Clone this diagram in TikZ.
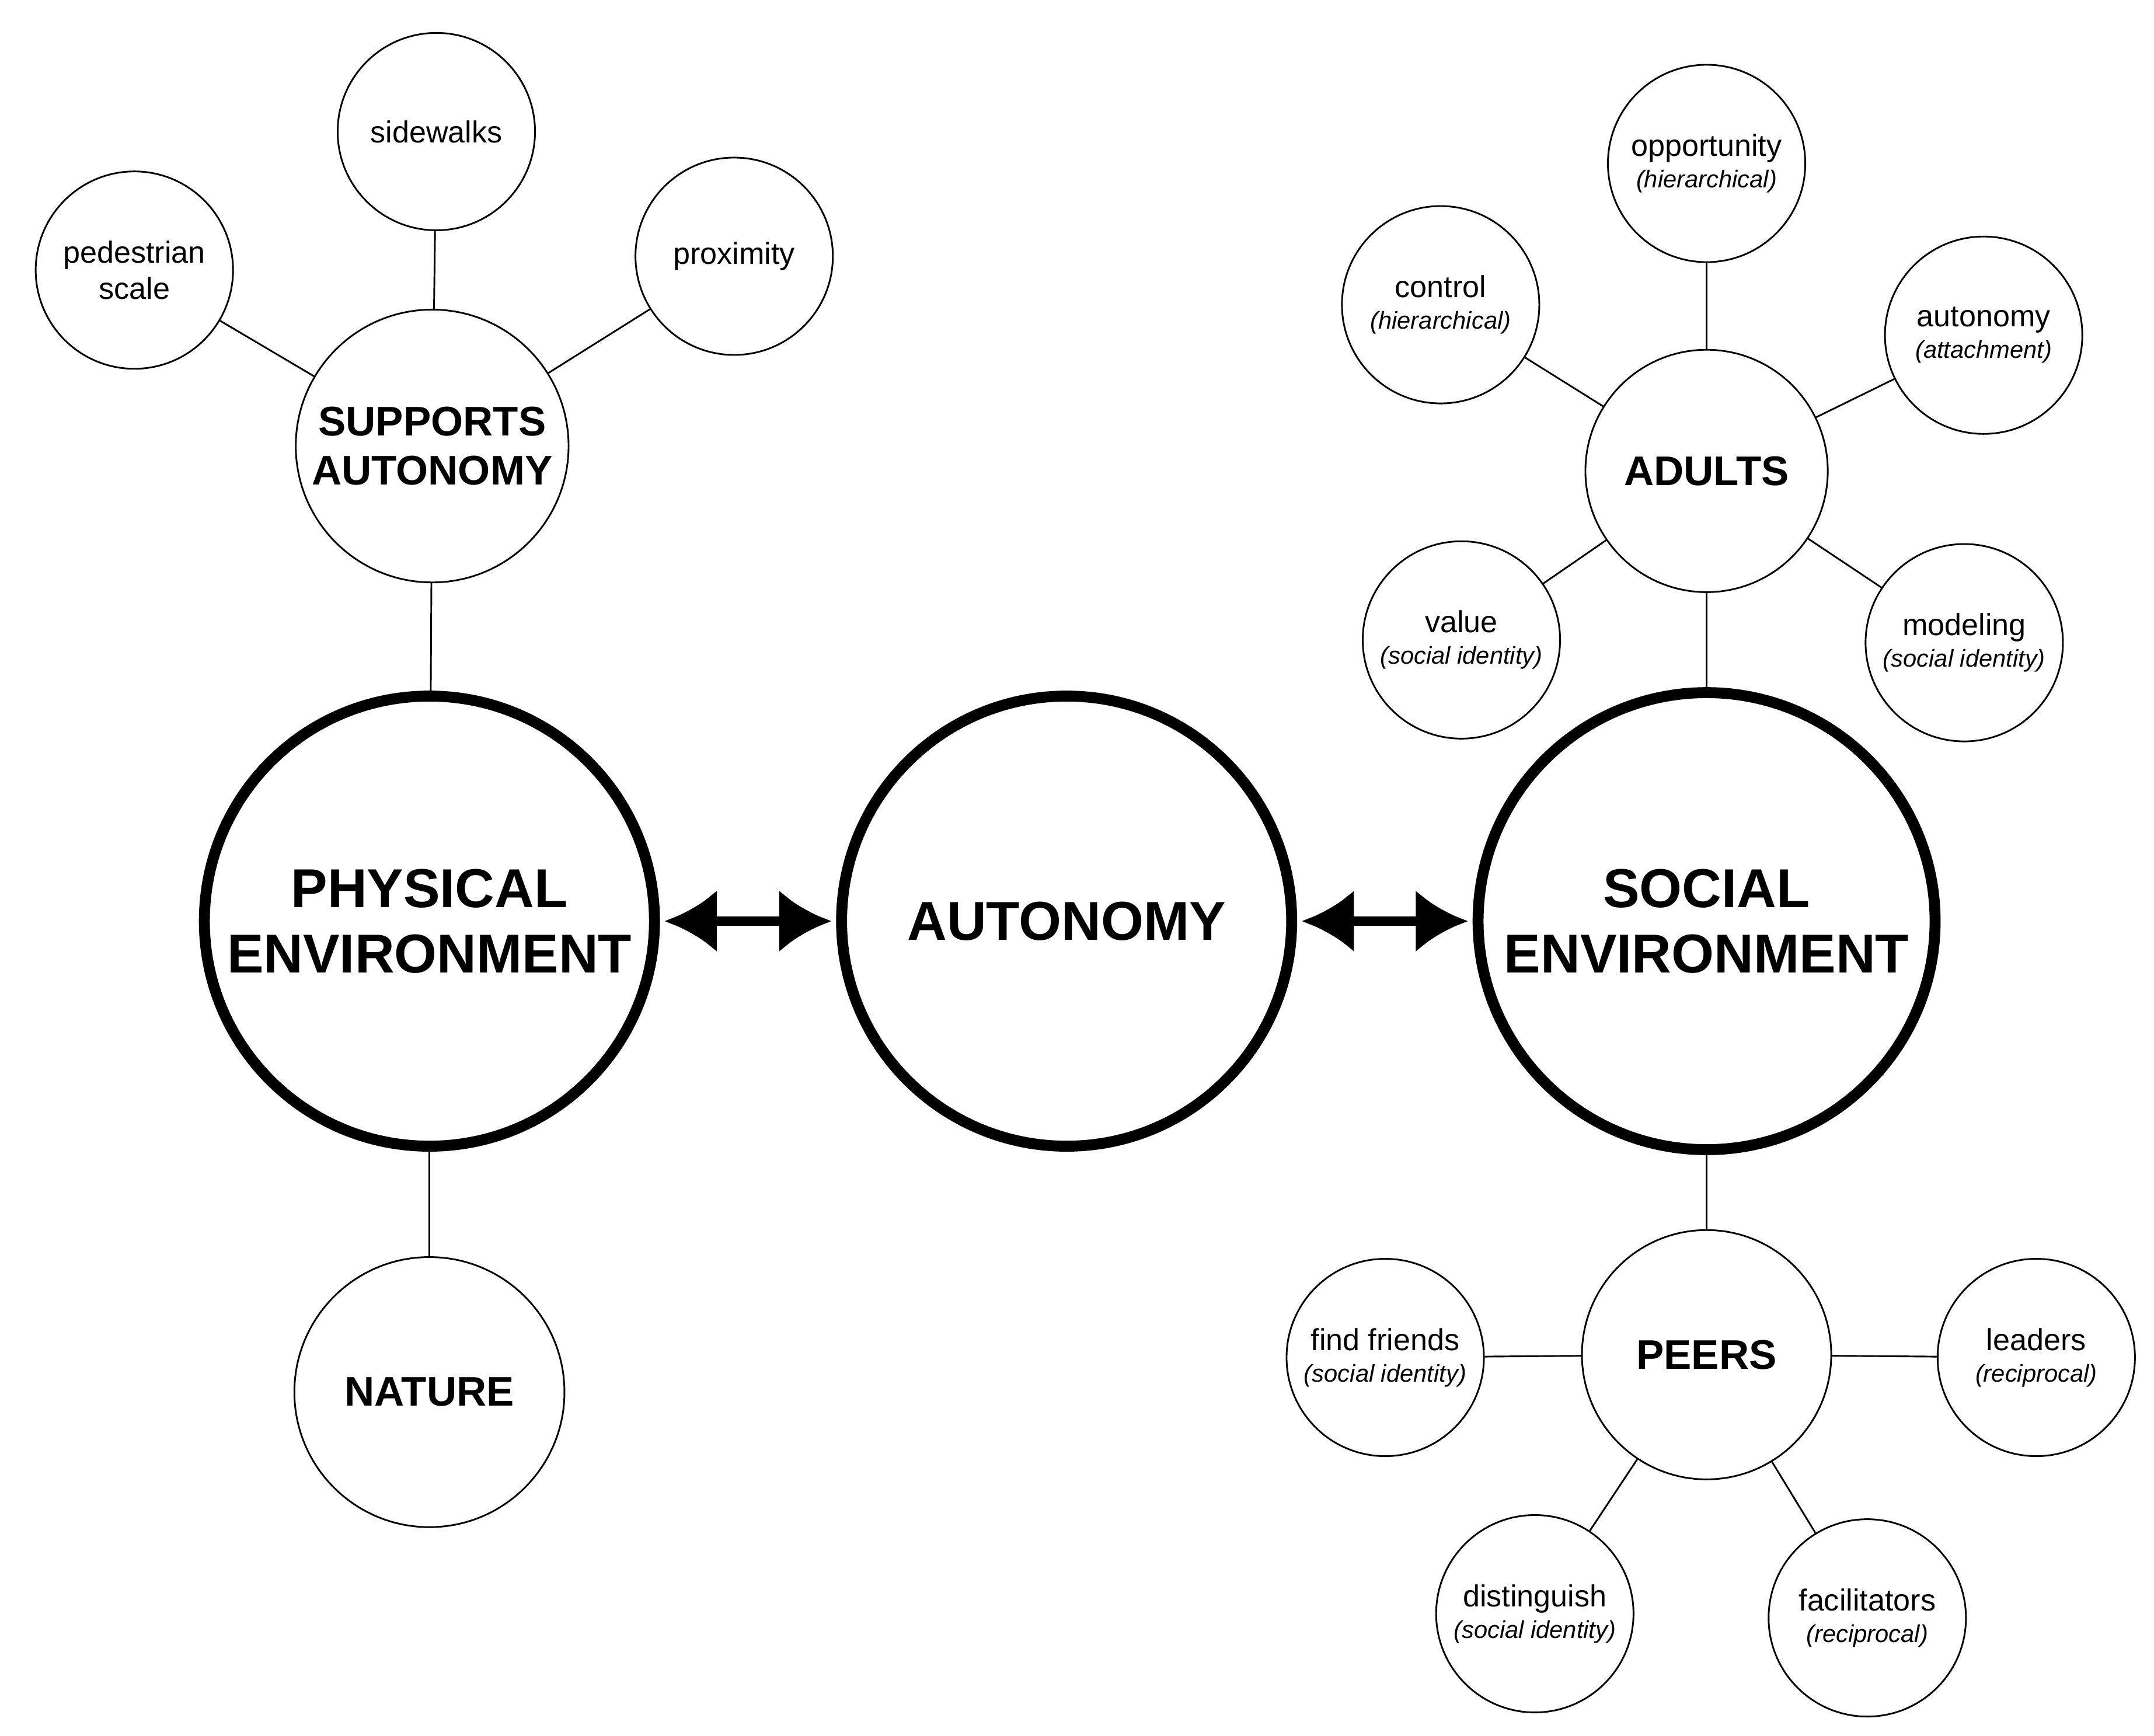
\documentclass[tikz,border=0pt]{standalone}
\usepackage{fontspec}
\setmainfont{Liberation Sans}
\usetikzlibrary{arrows.meta}
\newcommand{\subtag}[1]{{\fontsize{10}{11}\selectfont\itshape #1}}
\begin{document}
\begin{tikzpicture}[x=0.02cm,y=-0.02cm,
    main/.style={circle,draw,line width=4.5pt,minimum size=6.5cm,align=center,font=\fontsize{22.5}{27}\selectfont\bfseries},
    hub/.style={circle,draw,line width=0.7pt,minimum size=#1,align=center,font=\fontsize{17}{20}\selectfont\bfseries},
    leaf/.style={circle,draw,line width=0.7pt,minimum size=2.85cm,inner sep=0pt,align=center,font=\fontsize{12.5}{15}\selectfont},
    link/.style={line width=0.7pt},
    both/.style={line width=4pt,{Latex[length=0.75cm,width=0.9cm]}-{Latex[length=0.75cm,width=0.9cm]},shorten <=2pt,shorten >=2pt}]
    \useasboundingbox (0,0) rectangle (1555,1253);
    % Main circles
    \node[main] (phys) at (310,665) {PHYSICAL\\ENVIRONMENT};
    \node[main] (auto) at (770,665) {AUTONOMY};
    \node[main,minimum size=6.6cm] (soc) at (1232,665) {SOCIAL\\ENVIRONMENT};
    \draw[both] (phys) -- (auto);
    \draw[both] (auto) -- (soc);

    % Physical side
    \node[hub=3.9cm] (supp) at (312,322) {SUPPORTS\\AUTONOMY};
    \node[hub=3.9cm] (nat) at (310,1005) {NATURE};
    \node[leaf] (side) at (315,95) {sidewalks};
    \node[leaf] (ped) at (97,195) {pedestrian\\scale};
    \node[leaf] (prox) at (530,185) {proximity};
    \foreach \n in {side,ped,prox} \draw[link] (supp) -- (\n);
    \draw[link] (phys) -- (supp);
    \draw[link] (phys) -- (nat);

    % Social side: adults
    \node[hub=3.5cm] (adult) at (1232,340) {ADULTS};
    \node[leaf] (opp) at (1232,118) {opportunity\\[-2pt]\subtag{(hierarchical)}};
    \node[leaf] (ctrl) at (1040,220) {control\\[-2pt]\subtag{(hierarchical)}};
    \node[leaf] (att) at (1432,242) {autonomy\\[-2pt]\subtag{(attachment)}};
    \node[leaf] (val) at (1055,462) {value\\[-2pt]\subtag{(social identity)}};
    \node[leaf] (mod) at (1418,464) {modeling\\[-2pt]\subtag{(social identity)}};
    \foreach \n in {opp,ctrl,att,val,mod} \draw[link] (adult) -- (\n);
    \draw[link] (soc) -- (adult);

    % Social side: peers
    \node[hub=3.6cm] (peer) at (1232,978) {PEERS};
    \node[leaf] (find) at (1000,980) {find friends\\[-2pt]\subtag{(social identity)}};
    \node[leaf] (lead) at (1470,980) {leaders\\[-2pt]\subtag{(reciprocal)}};
    \node[leaf] (dist) at (1108,1165) {distinguish\\[-2pt]\subtag{(social identity)}};
    \node[leaf] (fac) at (1348,1168) {facilitators\\[-2pt]\subtag{(reciprocal)}};
    \foreach \n in {find,lead,dist,fac} \draw[link] (peer) -- (\n);
    \draw[link] (soc) -- (peer);
\end{tikzpicture}
\end{document}
